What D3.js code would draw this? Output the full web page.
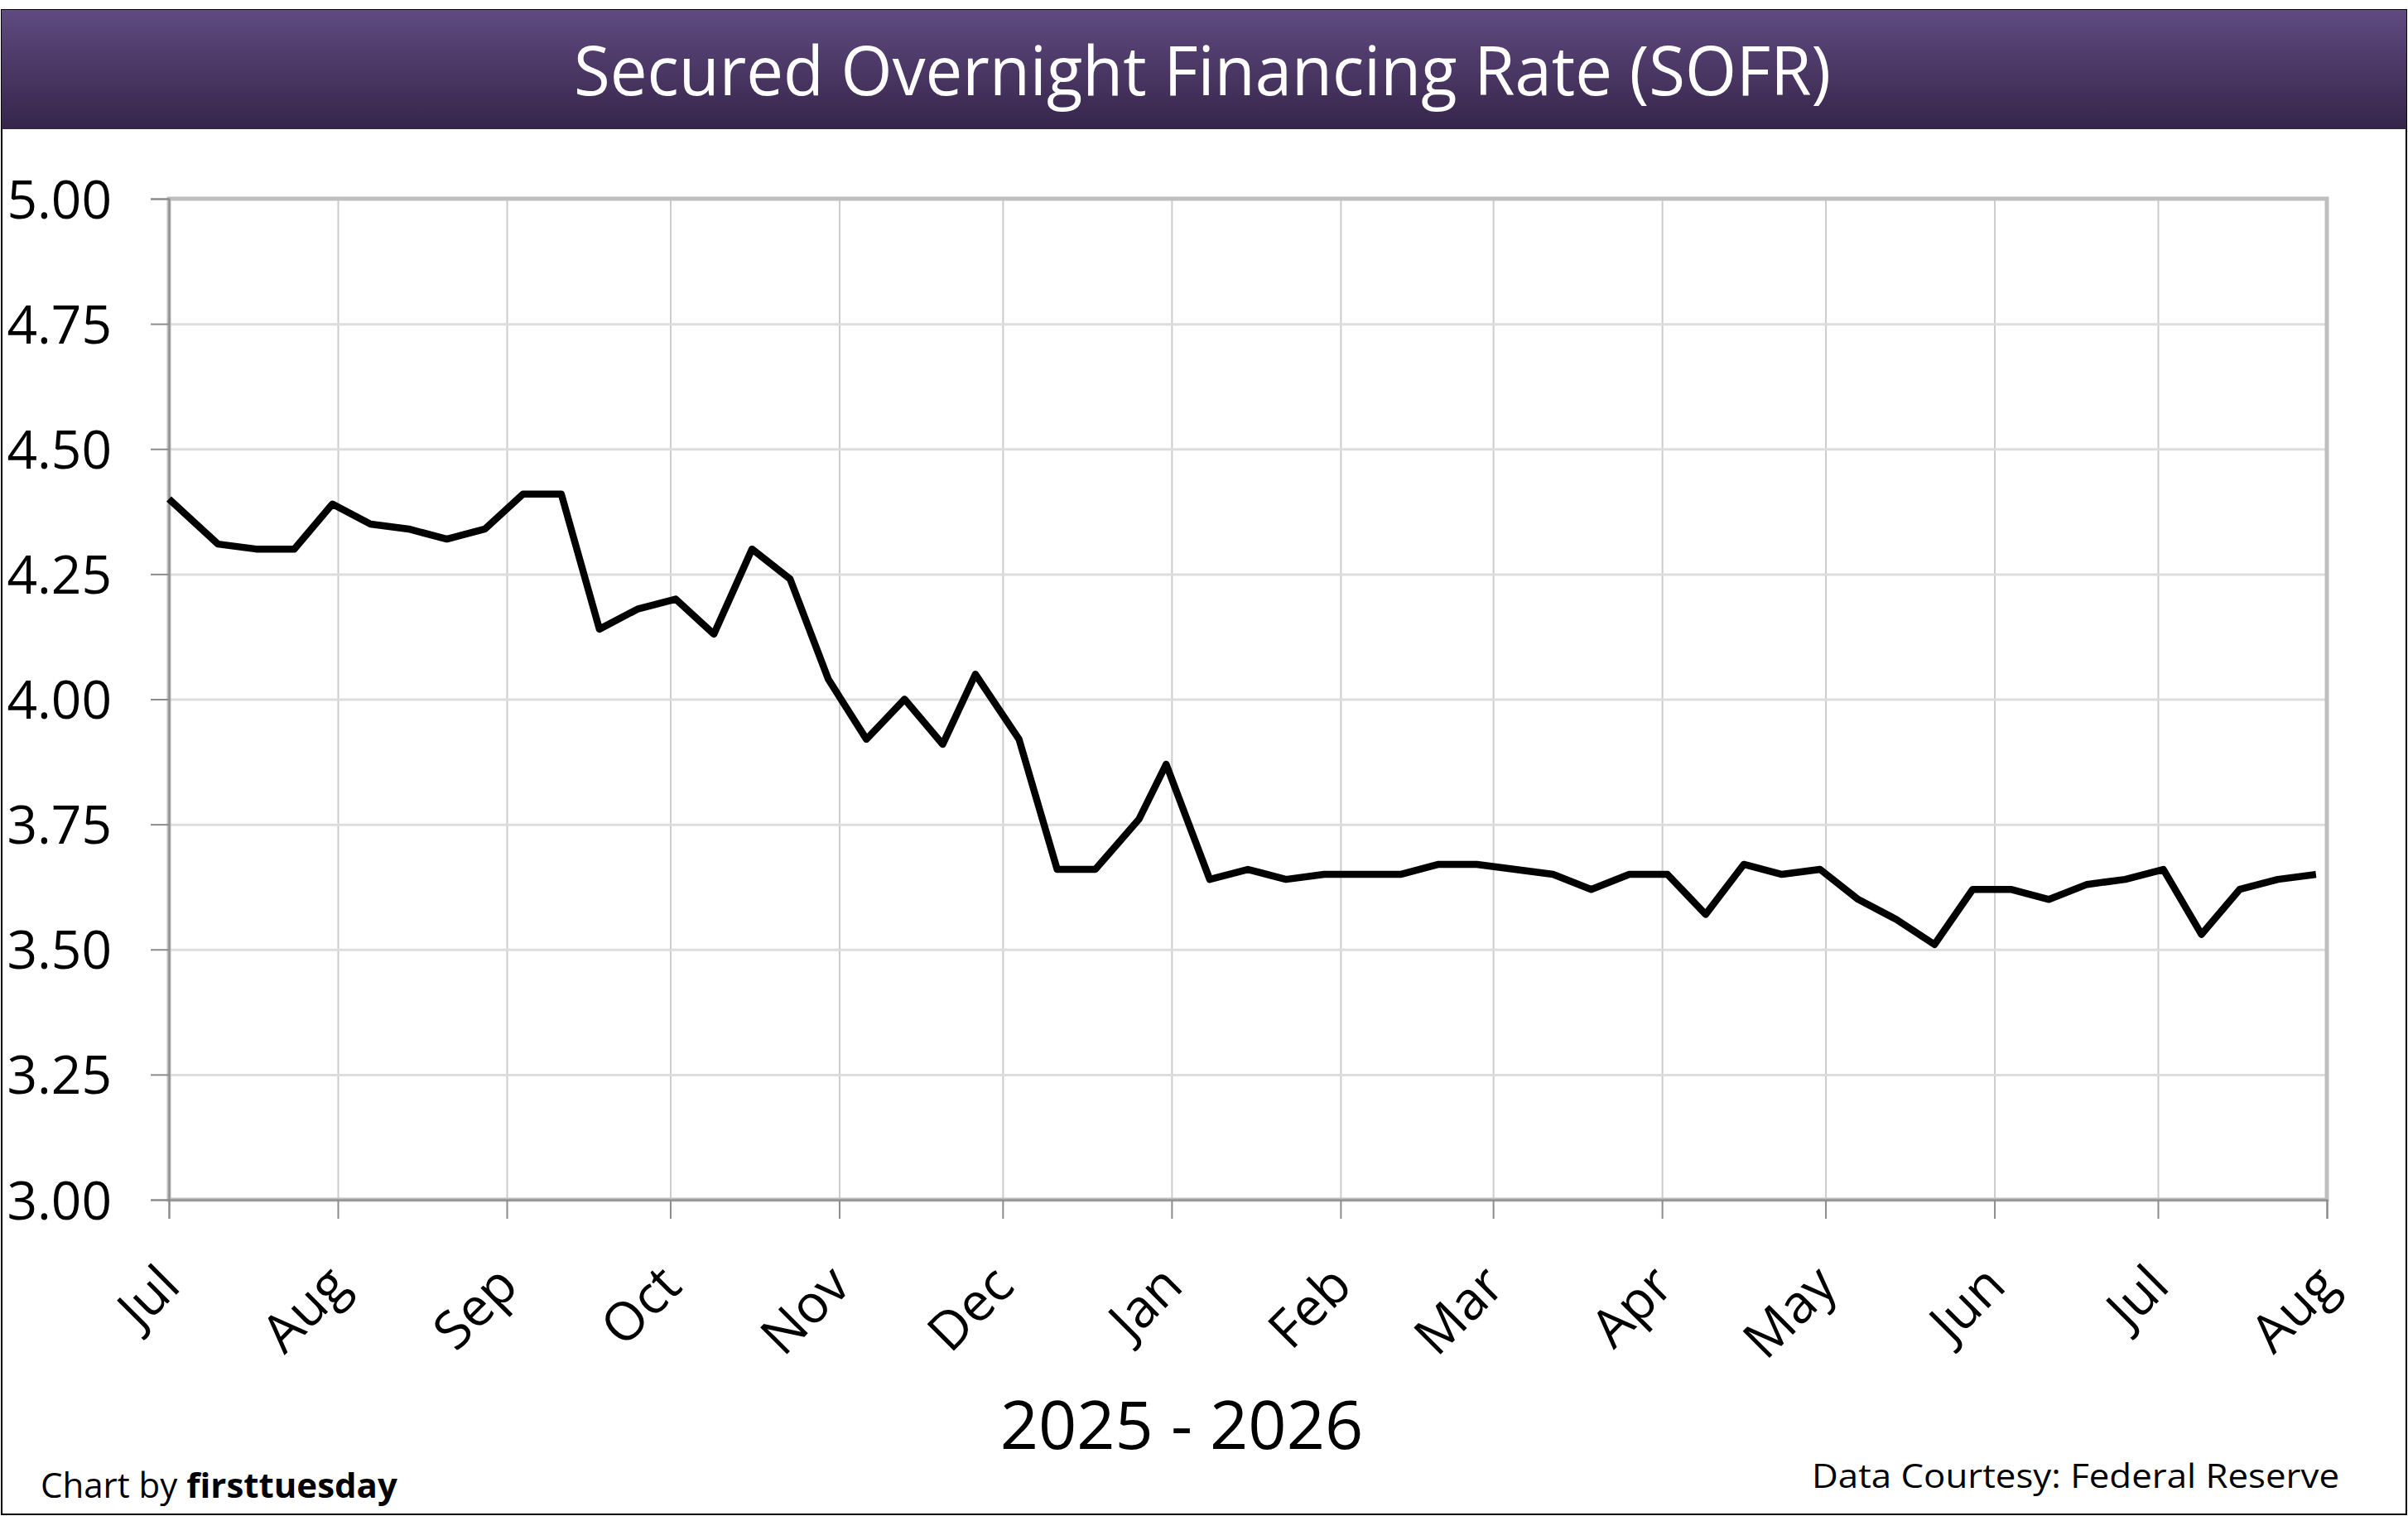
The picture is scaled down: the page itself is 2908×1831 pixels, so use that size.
<html>
  <head>
    <meta charset="utf-8">
    <script src="https://cdn.jsdelivr.net/npm/d3@7"></script>
    <style>
      body { margin: 0; background: #ffffff; }
      text { font-family: "Open Sans", "Noto Sans", sans-serif; }
    </style>
  </head>
  <body>
    <svg width="2908" height="1831"></svg>
    <script>
      // weekly SOFR readings (percent)
      var dates = [
        "2025-07-01","2025-07-10","2025-07-17","2025-07-24","2025-07-31",
        "2025-08-07","2025-08-14","2025-08-21","2025-08-28",
        "2025-09-04","2025-09-11","2025-09-18","2025-09-25",
        "2025-10-02","2025-10-09","2025-10-16","2025-10-23","2025-10-30",
        "2025-11-06","2025-11-13","2025-11-20","2025-11-26",
        "2025-12-04","2025-12-11","2025-12-18","2025-12-26","2025-12-31",
        "2026-01-08","2026-01-15","2026-01-22","2026-01-29",
        "2026-02-05","2026-02-12","2026-02-19","2026-02-26",
        "2026-03-05","2026-03-12","2026-03-19","2026-03-26",
        "2026-04-02","2026-04-09","2026-04-16","2026-04-23","2026-04-30",
        "2026-05-07","2026-05-14","2026-05-21","2026-05-28",
        "2026-06-04","2026-06-11","2026-06-18","2026-06-25",
        "2026-07-02","2026-07-09","2026-07-16","2026-07-23","2026-07-30"
      ];
      var rates = [
        4.40, 4.31, 4.30, 4.30, 4.39,
        4.35, 4.34, 4.32, 4.34,
        4.41, 4.41, 4.14, 4.18,
        4.20, 4.13, 4.30, 4.24, 4.04,
        3.92, 4.00, 3.91, 4.05,
        3.92, 3.66, 3.66, 3.76, 3.87,
        3.64, 3.66, 3.64, 3.65,
        3.65, 3.65, 3.67, 3.67,
        3.66, 3.65, 3.62, 3.65,
        3.65, 3.57, 3.67, 3.65, 3.66,
        3.60, 3.56, 3.51, 3.62,
        3.62, 3.60, 3.63, 3.64,
        3.66, 3.53, 3.62, 3.64, 3.65
      ];
      var monthTicks = [
        "2025-07-01","2025-08-01","2025-09-01","2025-10-01","2025-11-01","2025-12-01",
        "2026-01-01","2026-02-01","2026-03-01","2026-04-01","2026-05-01","2026-06-01",
        "2026-07-01","2026-08-01"
      ];
      var monthLabels = ["Jul","Aug","Sep","Oct","Nov","Dec","Jan","Feb","Mar","Apr","May","Jun","Jul","Aug"];
      var yTicks = [3.00, 3.25, 3.50, 3.75, 4.00, 4.25, 4.50, 4.75, 5.00];

      var title = "Secured Overnight Financing Rate (SOFR)";
      var xTitle = "2025 - 2026";

      var svg = d3.select("svg");
      var W = 2908, H = 1831;
      var plotL = 204, plotR = 2810, plotT = 240, plotB = 1449;

      var parse = d3.utcParse("%Y-%m-%d");
      var data = dates.map(function(d, i) { return { date: parse(d), value: rates[i] }; });
      var ticks = monthTicks.map(parse);

      var x = d3.scaleUtc()
          .domain([ticks[0], ticks[ticks.length - 1]])
          .range([plotL, plotR]);
      var y = d3.scaleLinear()
          .domain([3, 5])
          .range([plotB, plotT]);

      // frame
      svg.append("rect")
          .attr("x", 2).attr("y", 12)
          .attr("width", W - 4).attr("height", H - 14)
          .attr("fill", "#ffffff")
          .attr("stroke", "#000000")
          .attr("stroke-width", 2);

      // title bar
      var grad = svg.append("defs").append("linearGradient")
          .attr("id", "bar").attr("x1", 0).attr("y1", 0).attr("x2", 0).attr("y2", 1);
      grad.append("stop").attr("offset", "0%").attr("stop-color", "#604a80");
      grad.append("stop").attr("offset", "100%").attr("stop-color", "#36254a");

      svg.append("rect")
          .attr("x", 2).attr("y", 12)
          .attr("width", W - 4).attr("height", 144)
          .attr("fill", "url(#bar)");

      svg.append("text")
          .attr("x", 1452).attr("y", 115)
          .attr("text-anchor", "middle")
          .attr("fill", "#ffffff")
          .attr("font-size", 83)
          .attr("textLength", 1518)
          .attr("lengthAdjust", "spacingAndGlyphs")
          .text(title);

      // gridlines
      svg.append("g")
          .attr("transform", "translate(0," + plotB + ")")
          .call(d3.axisBottom(x).tickValues(ticks).tickSize(-(plotB - plotT)).tickFormat(""))
          .call(function(g) {
            g.select(".domain").remove();
            g.selectAll("line").attr("stroke", "#cccccc").attr("stroke-width", 2);
          });
      svg.append("g")
          .attr("transform", "translate(" + plotL + ",0)")
          .call(d3.axisLeft(y).tickValues(yTicks).tickSize(-(plotR - plotL)).tickFormat(""))
          .call(function(g) {
            g.select(".domain").remove();
            g.selectAll("line").attr("stroke", "#dddddd").attr("stroke-width", 3);
          });

      // plot border
      svg.append("rect")
          .attr("x", plotL).attr("y", plotT)
          .attr("width", plotR - plotL).attr("height", plotB - plotT)
          .attr("fill", "none")
          .attr("stroke", "#bfbfbf")
          .attr("stroke-width", 5);

      // y axis
      svg.append("g")
          .attr("transform", "translate(" + plotL + ",0)")
          .call(d3.axisLeft(y).tickValues(yTicks).tickSize(22).tickPadding(0).tickFormat(d3.format(".2f")))
          .call(function(g) {
            g.select(".domain").attr("stroke", "#8c8c8c").attr("stroke-width", 2);
            g.selectAll("line").attr("stroke", "#8c8c8c").attr("stroke-width", 2);
            g.selectAll("text")
                .attr("x", 135 - plotL)
                .attr("dy", "0.36em")
                .attr("font-size", 64)
                .attr("fill", "#000000");
          });

      // x axis
      svg.append("g")
          .attr("transform", "translate(0," + plotB + ")")
          .call(d3.axisBottom(x).tickValues(ticks).tickSize(23).tickFormat(function(d, i) { return monthLabels[i]; }))
          .call(function(g) {
            g.select(".domain").attr("stroke", "#8c8c8c").attr("stroke-width", 2);
            g.selectAll("line").attr("stroke", "#8c8c8c").attr("stroke-width", 2);
            g.selectAll("text")
                .attr("x", 0).attr("y", 0).attr("dy", 0)
                .attr("text-anchor", "end")
                .attr("transform", "translate(16,107) rotate(-45)")
                .attr("font-size", 64)
                .attr("fill", "#000000");
          });

      // series
      var line = d3.line()
          .x(function(d) { return x(d.date); })
          .y(function(d) { return y(d.value); });

      svg.append("path")
          .datum(data)
          .attr("d", line)
          .attr("fill", "none")
          .attr("stroke", "#000000")
          .attr("stroke-width", 8.5)
          .attr("stroke-linejoin", "round");

      // axis title and credits
      svg.append("text")
          .attr("x", 1427).attr("y", 1750)
          .attr("text-anchor", "middle")
          .attr("font-size", 81)
          .attr("fill", "#000000")
          .text(xTitle);

      var credit = svg.append("text")
          .attr("x", 49).attr("y", 1809)
          .attr("font-size", 42)
          .attr("fill", "#000000");
      credit.append("tspan").text("Chart by ");
      credit.append("tspan").attr("font-weight", "bold").text("firsttuesday");

      svg.append("text")
          .attr("x", 2825).attr("y", 1797)
          .attr("text-anchor", "end")
          .attr("font-size", 40)
          .attr("fill", "#000000")
          .attr("textLength", 637)
          .attr("lengthAdjust", "spacingAndGlyphs")
          .text("Data Courtesy: Federal Reserve");
    </script>
  </body>
</html>
